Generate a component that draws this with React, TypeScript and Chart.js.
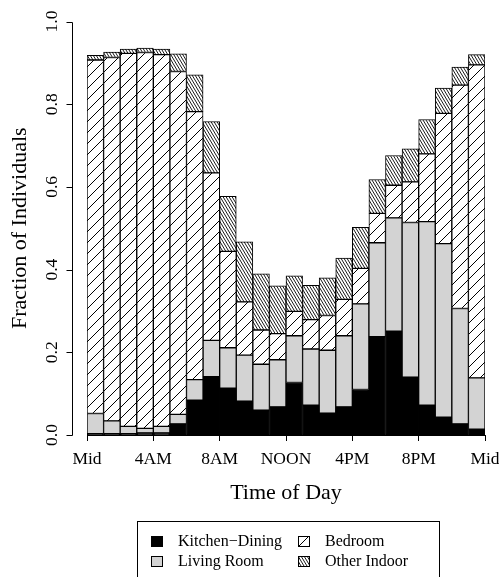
import React, { useEffect, useRef } from "react";
import { Chart, registerables } from "chart.js";

Chart.register(...registerables);

// ---- data ----
const hours = [0, 1, 2, 3, 4, 5, 6, 7, 8, 9, 10, 11, 12, 13, 14, 15, 16, 17, 18, 19, 20, 21, 22, 23];
const tickHours = [0, 4, 8, 12, 16, 20, 24];
const tickLabels = ["Mid", "4AM", "8AM", "NOON", "4PM", "8PM", "Mid"];
const yTicks = [0, 0.2, 0.4, 0.6, 0.8, 1.0];
const seriesNames = ["Kitchen\u2212Dining", "Living Room", "Bedroom", "Other Indoor"];

const kitchen = [0.003, 0.003, 0.003, 0.005, 0.005, 0.027, 0.084, 0.141, 0.113, 0.082, 0.060, 0.068, 0.127, 0.072, 0.053, 0.068, 0.110, 0.238, 0.251, 0.140, 0.072, 0.043, 0.027, 0.014];
const living = [0.049, 0.031, 0.018, 0.011, 0.016, 0.023, 0.050, 0.088, 0.098, 0.111, 0.111, 0.114, 0.113, 0.136, 0.152, 0.172, 0.207, 0.227, 0.274, 0.374, 0.444, 0.420, 0.279, 0.124];
const bedroom = [0.855, 0.879, 0.902, 0.909, 0.899, 0.829, 0.648, 0.405, 0.233, 0.129, 0.083, 0.063, 0.059, 0.071, 0.084, 0.088, 0.086, 0.071, 0.079, 0.098, 0.164, 0.315, 0.540, 0.757];
const other = [0.011, 0.013, 0.010, 0.011, 0.013, 0.043, 0.089, 0.124, 0.133, 0.145, 0.136, 0.116, 0.086, 0.083, 0.091, 0.100, 0.099, 0.082, 0.072, 0.080, 0.083, 0.061, 0.044, 0.025];

const FONT = "'Liberation Serif', 'Times New Roman', serif";

function makeBedroomPattern(ctx: CanvasRenderingContext2D): CanvasPattern {
  const s = 11;
  const c = document.createElement("canvas");
  c.width = s;
  c.height = s;
  const g = c.getContext("2d")!;
  g.fillStyle = "#fff";
  g.fillRect(0, 0, s, s);
  g.strokeStyle = "#000";
  g.lineWidth = 1;
  g.beginPath();
  for (const off of [-s, 0, s]) {
    g.moveTo(off, s);
    g.lineTo(off + s, 0);
  }
  g.stroke();
  return ctx.createPattern(c, "repeat")!;
}

function makeOtherPattern(ctx: CanvasRenderingContext2D): CanvasPattern {
  const w = 3;
  const h = 5;
  const c = document.createElement("canvas");
  c.width = w;
  c.height = h;
  const g = c.getContext("2d")!;
  g.fillStyle = "#fff";
  g.fillRect(0, 0, w, h);
  g.strokeStyle = "#000";
  g.lineWidth = 0.9;
  g.beginPath();
  for (const off of [-w, 0, w]) {
    g.moveTo(off, 0);
    g.lineTo(off + w, h);
  }
  g.stroke();
  return ctx.createPattern(c, "repeat")!;
}

export default function App() {
  const ref = useRef<HTMLCanvasElement>(null);

  useEffect(() => {
    const canvas = ref.current!;
    const ctx = canvas.getContext("2d")!;
    const fills: (string | CanvasPattern)[] = [
      "#000000",
      "#d3d3d3",
      makeBedroomPattern(ctx),
      makeOtherPattern(ctx),
    ];
    const series = [kitchen, living, bedroom, other];

    const yAxisPlugin = {
      id: "rYAxis",
      afterDraw(chart: any) {
        const { ctx: c, chartArea, scales } = chart;
        const y = scales.y;
        const ax = Math.round(chartArea.left - 15) + 0.5;
        c.save();
        c.strokeStyle = "#000";
        c.lineWidth = 1;
        c.beginPath();
        c.moveTo(ax, Math.round(y.getPixelForValue(yTicks[0])) + 0.5);
        c.lineTo(ax, Math.round(y.getPixelForValue(yTicks[yTicks.length - 1])) + 0.5);
        yTicks.forEach((v) => {
          const py = Math.round(y.getPixelForValue(v)) + 0.5;
          c.moveTo(ax, py);
          c.lineTo(ax - 6, py);
        });
        c.stroke();
        c.restore();
      },
    };

    const legendPlugin = {
      id: "rLegend",
      afterDraw(chart: any) {
        const c: CanvasRenderingContext2D = chart.ctx;
        c.save();
        c.strokeStyle = "#000";
        c.lineWidth = 1;
        c.strokeRect(137.5, 521.5, 302, 120);
        c.font = `16px ${FONT}`;
        c.textBaseline = "middle";
        c.textAlign = "left";
        c.fillStyle = "#000";
        const cols = [
          { box: 151, text: 178 },
          { box: 298, text: 325 },
        ];
        const rows = [541, 561];
        // R fills legend by column: Kitchen, Living | Bedroom, Other
        chart.data.datasets.forEach((ds: any, i: number) => {
          const col = cols[Math.floor(i / 2)];
          const row = rows[i % 2];
          const bx = col.box;
          const by = row - 5;
          c.save();
          c.translate(bx, by);
          c.fillStyle = ds.backgroundColor;
          c.fillRect(0, 0, 12, 10);
          c.strokeRect(0.5, 0.5, 11, 10);
          c.restore();
          c.fillStyle = "#000";
          c.fillText(ds.label, col.text, row + 1);
        });
        c.restore();
      },
    };

    const chart = new Chart(canvas, {
      type: "bar",
      data: {
        datasets: series.map((vals, k) => ({
          label: seriesNames[k],
          data: hours.map((h, i) => ({ x: h + 0.5, y: vals[i] })),
          backgroundColor: fills[k] as any,
          borderColor: "#000",
          borderWidth: 1,
          borderSkipped: false,
          barPercentage: 1,
          categoryPercentage: 1,
        })),
      },
      options: {
        responsive: false,
        animation: false,
        events: [],
        layout: { padding: { top: 21.5, right: 14, bottom: 71, left: 0 } },
        plugins: {
          legend: { display: false },
          tooltip: { enabled: false },
        },
        scales: {
          x: {
            type: "linear",
            stacked: true,
            min: 0,
            max: 24,
            offset: false,
            afterBuildTicks: (s: any) => {
              s.ticks = tickHours.map((v) => ({ value: v }));
            },
            afterFit: (s: any) => {
              s.height = 71;
              s.paddingLeft = 0;
              s.paddingRight = 0;
            },
            grid: {
              display: true,
              drawOnChartArea: false,
              drawTicks: true,
              tickLength: 6,
              color: "#000",
              lineWidth: 1,
              offset: false,
            },
            border: { display: true, color: "#000", width: 1 },
            ticks: {
              autoSkip: false,
              minRotation: 0,
              maxRotation: 0,
              padding: 8,
              color: "#000",
              font: { family: FONT, size: 17.5 },
              callback: (v: any) => {
                const idx = tickHours.indexOf(Number(v));
                return idx >= 0 ? tickLabels[idx] : "";
              },
            },
            title: {
              display: true,
              text: "Time of Day",
              color: "#000",
              font: { family: FONT, size: 22 },
              padding: { top: 0, bottom: 0 },
            },
          },
          y: {
            type: "linear",
            stacked: true,
            min: 0,
            max: 1,
            afterBuildTicks: (s: any) => {
              s.ticks = yTicks.map((v) => ({ value: v }));
            },
            afterFit: (s: any) => {
              s.width = 87;
              s.paddingTop = 0;
              s.paddingBottom = 0;
            },
            grid: { display: false, drawTicks: false },
            border: { display: false },
            ticks: {
              minRotation: 90,
              maxRotation: 90,
              crossAlign: "center",
              padding: 23.6,
              color: "#000",
              font: { family: FONT, size: 17.5 },
              callback: (v: any) => Number(v).toFixed(1),
            },
            title: {
              display: true,
              text: "Fraction of Individuals",
              color: "#000",
              font: { family: FONT, size: 22 },
              padding: { top: 6.8, bottom: 0 },
            },
          },
        },
      } as any,
      plugins: [yAxisPlugin, legendPlugin],
    });

    return () => chart.destroy();
  }, []);

  return (
    <div style={{ position: "fixed", left: 0, top: 0, width: 499, height: 577, background: "#fff" }}>
      <canvas ref={ref} width={499} height={577} style={{ display: "block", width: 499, height: 577 }} />
    </div>
  );
}
